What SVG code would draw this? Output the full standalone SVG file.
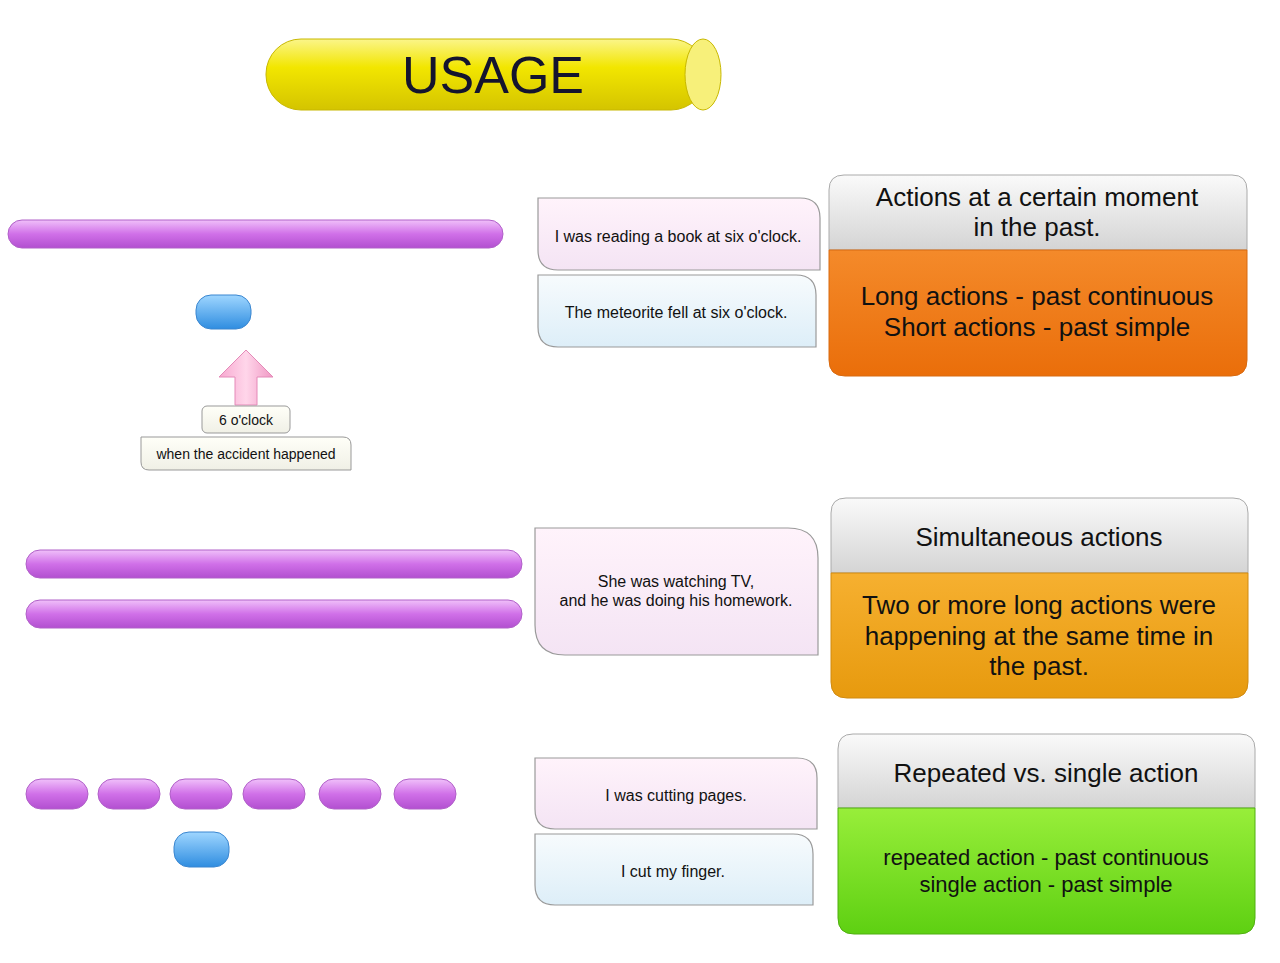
<svg xmlns="http://www.w3.org/2000/svg" width="1280" height="963" viewBox="0 0 1280 963">
<style>
.t{font-family:"Liberation Sans",Arial,sans-serif;fill:#111;text-anchor:middle}
.s{font-size:16px}
.h{font-size:26px}
.b{stroke:#9a9a9a;stroke-width:1.2}
.pill{fill:url(#gPurple);stroke:#b060c8;stroke-width:1}
.blue{fill:url(#gBlue);stroke:#3a86d0;stroke-width:1}
</style>
<defs>
<linearGradient id="gPurple" x1="0" y1="0" x2="0" y2="1"><stop offset="0" stop-color="#f0c0fa"/><stop offset="0.5" stop-color="#d070e8"/><stop offset="1" stop-color="#b24fd0"/></linearGradient>
<linearGradient id="gBlue" x1="0" y1="0" x2="0" y2="1"><stop offset="0" stop-color="#9fd6ff"/><stop offset="1" stop-color="#2f8de0"/></linearGradient>
<linearGradient id="gYellow" x1="0" y1="0" x2="0" y2="1"><stop offset="0" stop-color="#fbf58a"/><stop offset="0.4" stop-color="#f2e600"/><stop offset="1" stop-color="#d4c400"/></linearGradient>
<linearGradient id="gGrey" x1="0" y1="0" x2="0" y2="1"><stop offset="0" stop-color="#fafafa"/><stop offset="1" stop-color="#d4d4d4"/></linearGradient>
<linearGradient id="gOrange" x1="0" y1="0" x2="0" y2="1"><stop offset="0" stop-color="#f48a2a"/><stop offset="1" stop-color="#ea6e0a"/></linearGradient>
<linearGradient id="gAmber" x1="0" y1="0" x2="0" y2="1"><stop offset="0" stop-color="#f6b030"/><stop offset="1" stop-color="#e79a0e"/></linearGradient>
<linearGradient id="gGreen" x1="0" y1="0" x2="0" y2="1"><stop offset="0" stop-color="#98ee3a"/><stop offset="1" stop-color="#5ed012"/></linearGradient>
<linearGradient id="gPink" x1="0" y1="0" x2="0" y2="1"><stop offset="0" stop-color="#fff3fb"/><stop offset="1" stop-color="#f4e4f4"/></linearGradient>
<linearGradient id="gIce" x1="0" y1="0" x2="0" y2="1"><stop offset="0" stop-color="#f7fbfd"/><stop offset="1" stop-color="#ddeef8"/></linearGradient>
<linearGradient id="gArrow" x1="0" y1="0" x2="1" y2="0"><stop offset="0" stop-color="#f7a8d0"/><stop offset="0.5" stop-color="#ffd6ea"/><stop offset="1" stop-color="#f098c4"/></linearGradient>
<linearGradient id="gLabel" x1="0" y1="0" x2="0" y2="1"><stop offset="0" stop-color="#fffff8"/><stop offset="1" stop-color="#f0f0e6"/></linearGradient>
</defs>

<g id="title">
<rect x="266" y="39" width="440" height="71" rx="35" fill="url(#gYellow)" stroke="#c8b800"/>
<ellipse cx="703" cy="74.5" rx="18" ry="35.5" fill="#f7f07a" stroke="#c8b800"/>
<text class="t" x="493" y="93" font-size="52" style="fill:#14142e">USAGE</text>
</g>

<g id="timeline1">
<rect class="pill" x="8" y="220" width="495" height="28" rx="14"/>
<rect class="blue" x="196" y="295" width="55" height="34" rx="15"/>
<path d="M246 350 L273 377 L257 377 L257 405 L235 405 L235 377 L219 377 Z" fill="url(#gArrow)" stroke="#e48ab8"/>
<rect x="202" y="406" width="88" height="27" rx="5" fill="url(#gLabel)" stroke="#999"/>
<text class="t" x="246" y="425" font-size="14">6 o'clock</text>
<path d="M141 437 H343 Q351 437 351 445 V470 H149 Q141 470 141 462 Z" fill="url(#gLabel)" stroke="#999"/>
<text class="t" x="246" y="459" font-size="14">when the accident happened</text>
</g>

<g id="s1a"><path class="b" d="M538 198 H800 Q820 198 820 218 V270 H558 Q538 270 538 250 Z" fill="url(#gPink)"/>
<text class="t s" x="678" y="242">I was reading a book at six o'clock.</text></g>
<g id="s1b"><path class="b" d="M538 275 H796 Q816 275 816 295 V347 H558 Q538 347 538 327 Z" fill="url(#gIce)"/>
<text class="t s" x="676" y="318">The meteorite fell at six o'clock.</text></g>

<g id="card1">
<path d="M829 250 V190 Q829 175 844 175 H1232 Q1247 175 1247 190 V250 Z" fill="url(#gGrey)" stroke="#aaa"/>
<path d="M829 250 H1247 V360 Q1247 376 1231 376 H845 Q829 376 829 360 Z" fill="url(#gOrange)" stroke="#d86a10"/>
<text class="t h" x="1037" y="206">Actions at a certain moment</text>
<text class="t h" x="1037" y="236">in the past.</text>
<text class="t h" x="1037" y="305">Long actions - past continuous</text>
<text class="t h" x="1037" y="336">Short actions - past simple</text>
</g>

<g id="timeline2">
<rect class="pill" x="26" y="550" width="496" height="28" rx="14"/>
<rect class="pill" x="26" y="600" width="496" height="28" rx="14"/>
</g>
<g id="s2"><path class="b" d="M535 528 H788 Q818 528 818 558 V655 H565 Q535 655 535 625 Z" fill="url(#gPink)"/>
<text class="t s" x="676" y="587">She was watching TV,</text>
<text class="t s" x="676" y="606">and he was doing his homework.</text></g>

<g id="card2">
<path d="M831 573 V513 Q831 498 846 498 H1233 Q1248 498 1248 513 V573 Z" fill="url(#gGrey)" stroke="#aaa"/>
<path d="M831 573 H1248 V682 Q1248 698 1232 698 H847 Q831 698 831 682 Z" fill="url(#gAmber)" stroke="#d08a10"/>
<text class="t h" x="1039" y="546">Simultaneous actions</text>
<text class="t h" x="1039" y="614">Two or more long actions were</text>
<text class="t h" x="1039" y="645">happening at the same time in</text>
<text class="t h" x="1039" y="675">the past.</text>
</g>

<g id="timeline3">
<rect class="pill" x="26" y="779" width="62" height="30" rx="15"/>
<rect class="pill" x="98" y="779" width="62" height="30" rx="15"/>
<rect class="pill" x="170" y="779" width="62" height="30" rx="15"/>
<rect class="pill" x="243" y="779" width="62" height="30" rx="15"/>
<rect class="pill" x="319" y="779" width="62" height="30" rx="15"/>
<rect class="pill" x="394" y="779" width="62" height="30" rx="15"/>
<rect class="blue" x="174" y="832" width="55" height="35" rx="15"/>
</g>
<g id="s3a"><path class="b" d="M535 758 H797 Q817 758 817 778 V829 H555 Q535 829 535 809 Z" fill="url(#gPink)"/>
<text class="t s" x="676" y="801">I was cutting pages.</text></g>
<g id="s3b"><path class="b" d="M535 834 H793 Q813 834 813 854 V905 H555 Q535 905 535 885 Z" fill="url(#gIce)"/>
<text class="t s" x="673" y="877">I cut my finger.</text></g>

<g id="card3">
<path d="M838 808 V749 Q838 734 853 734 H1240 Q1255 734 1255 749 V808 Z" fill="url(#gGrey)" stroke="#aaa"/>
<path d="M838 808 H1255 V918 Q1255 934 1239 934 H854 Q838 934 838 918 Z" fill="url(#gGreen)" stroke="#50b010"/>
<text class="t h" x="1046" y="782">Repeated vs. single action</text>
<text class="t" font-size="22" x="1046" y="865">repeated action - past continuous</text>
<text class="t" font-size="22" x="1046" y="892">single action - past simple</text>
</g>
<g id="connectors"/>
</svg>
